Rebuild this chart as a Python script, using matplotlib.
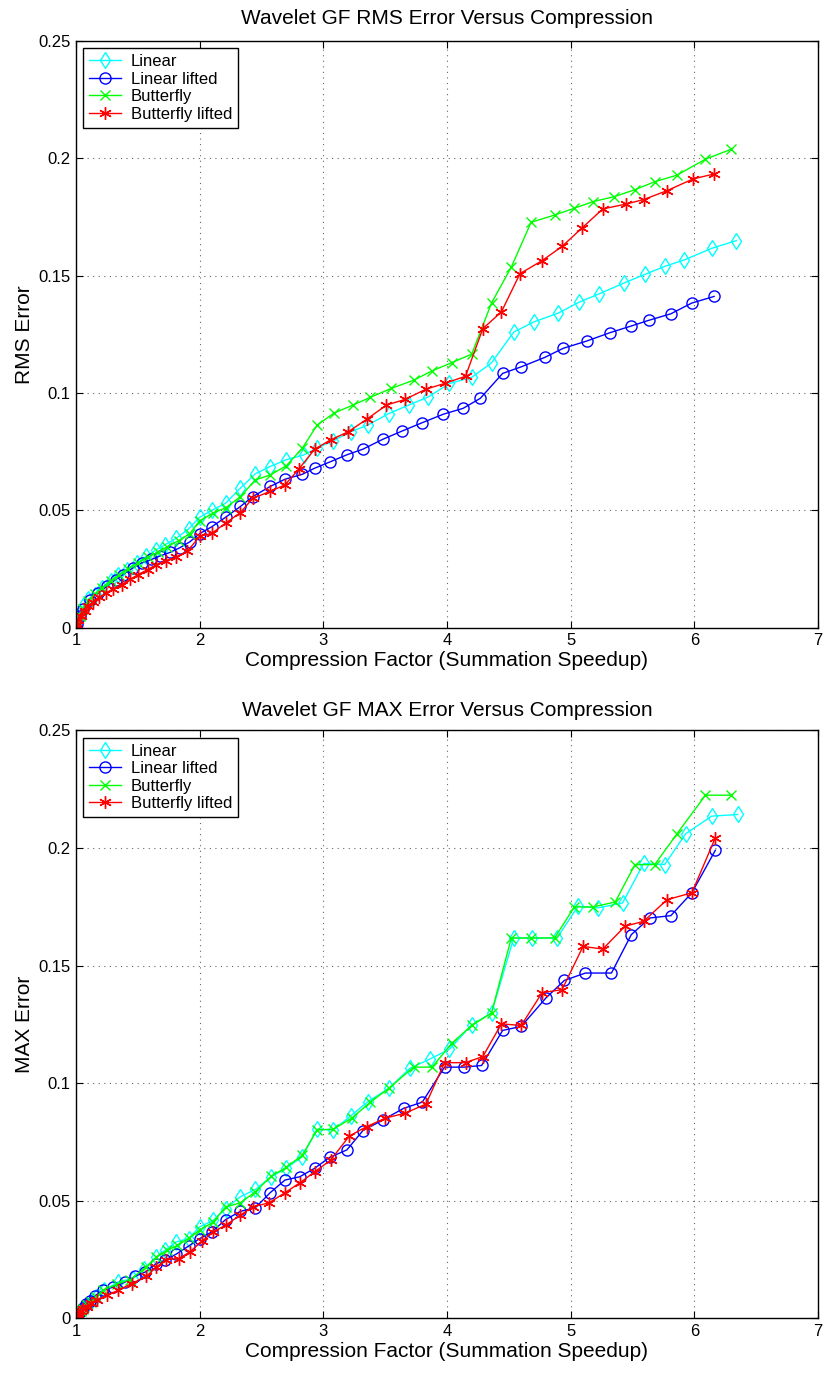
import numpy as np
import matplotlib.pyplot as plt

plt.rcParams['font.family'] = ['Liberation Sans', 'DejaVu Sans']

# ---- top panel: RMS error ----
rms_lin_x = [1.0, 1.005, 1.03, 1.06, 1.10, 1.15, 1.21, 1.28, 1.34, 1.41, 1.49, 1.57, 1.65, 1.72, 1.81,
             1.91, 2.0, 2.10, 2.21, 2.33, 2.45, 2.57, 2.70, 2.84, 2.95, 3.08, 3.22, 3.36, 3.53, 3.69,
             3.85, 4.02, 4.20, 4.36, 4.54, 4.70, 4.90, 5.07, 5.23, 5.43, 5.60, 5.76, 5.92, 6.14, 6.34]
rms_lin_y = [0.0, 0.0013, 0.006, 0.009, 0.012, 0.014, 0.017, 0.0197, 0.0225, 0.0247, 0.0275, 0.0303,
             0.0332, 0.0353, 0.038, 0.042, 0.047, 0.050, 0.053, 0.0594, 0.0655, 0.0686, 0.0715, 0.0735,
             0.0765, 0.0796, 0.0834, 0.0863, 0.0912, 0.0948, 0.0983, 0.104, 0.1066, 0.1128, 0.1259,
             0.1302, 0.134, 0.1387, 0.1422, 0.1468, 0.1505, 0.1539, 0.1567, 0.1616, 0.1649]

rms_linl_x = [1.0, 1.01, 1.03, 1.06, 1.11, 1.18, 1.25, 1.32, 1.38, 1.46, 1.53, 1.61, 1.68, 1.76, 1.84,
              1.92, 2.0, 2.10, 2.21, 2.33, 2.43, 2.57, 2.69, 2.83, 2.93, 3.05, 3.19, 3.32, 3.48, 3.64,
              3.80, 3.97, 4.13, 4.27, 4.45, 4.60, 4.79, 4.94, 5.13, 5.32, 5.49, 5.63, 5.81, 5.98, 6.16]
rms_linl_y = [0.0, 0.0015, 0.005, 0.008, 0.0119, 0.0147, 0.0176, 0.0204, 0.0225, 0.0254, 0.0275, 0.029,
              0.0305, 0.032, 0.034, 0.0365, 0.040, 0.043, 0.047, 0.0516, 0.0558, 0.0601, 0.0632, 0.0653,
              0.0679, 0.0705, 0.0736, 0.076, 0.0802, 0.0838, 0.0873, 0.0909, 0.0934, 0.0977, 0.1083,
              0.1111, 0.1151, 0.119, 0.1221, 0.1257, 0.1285, 0.1309, 0.1337, 0.1383, 0.1411]

rms_bf_x = [1.0, 1.01, 1.03, 1.06, 1.10, 1.15, 1.21, 1.28, 1.35, 1.42, 1.50, 1.58, 1.66, 1.74, 1.83,
            1.92, 2.0, 2.11, 2.21, 2.33, 2.45, 2.57, 2.70, 2.83, 2.95, 3.09, 3.24, 3.38, 3.55, 3.73,
            3.88, 4.04, 4.20, 4.36, 4.52, 4.68, 4.87, 5.03, 5.18, 5.35, 5.52, 5.68, 5.86, 6.09, 6.30]
rms_bf_y = [0.0, 0.0015, 0.005, 0.008, 0.0115, 0.0142, 0.017, 0.020, 0.0225, 0.025, 0.0275, 0.030,
            0.032, 0.0345, 0.037, 0.040, 0.0455, 0.0488, 0.051, 0.0558, 0.0629, 0.065, 0.0689, 0.0764,
            0.0863, 0.0915, 0.0948, 0.0981, 0.1019, 0.1054, 0.1094, 0.1129, 0.1165, 0.1383, 0.1536,
            0.1727, 0.1758, 0.1787, 0.1815, 0.1836, 0.1866, 0.190, 0.1928, 0.1996, 0.2039]

rms_bfl_x = [1.0, 1.01, 1.02, 1.04, 1.07, 1.10, 1.14, 1.19, 1.24, 1.30, 1.37, 1.44, 1.50, 1.58, 1.65,
             1.73, 1.81, 1.90, 2.0, 2.10, 2.21, 2.33, 2.43, 2.57, 2.69, 2.80, 2.93, 3.06, 3.20, 3.35,
             3.51, 3.66, 3.83, 3.98, 4.15, 4.29, 4.44, 4.59, 4.77, 4.93, 5.09, 5.26, 5.45, 5.59, 5.78,
             5.99, 6.16]
rms_bfl_y = [0.0, 0.001, 0.003, 0.005, 0.007, 0.009, 0.011, 0.013, 0.0145, 0.0165, 0.0183, 0.0205,
             0.0225, 0.0247, 0.0268, 0.0285, 0.030, 0.0325, 0.0388, 0.0402, 0.0445, 0.049, 0.0551,
             0.058, 0.0608, 0.0674, 0.076, 0.080, 0.0834, 0.0887, 0.0948, 0.0972, 0.1016, 0.104,
             0.1071, 0.1274, 0.1345, 0.1508, 0.1564, 0.1624, 0.1702, 0.1784, 0.1805, 0.1824, 0.1862,
             0.1912, 0.1933]

# ---- bottom panel: MAX error ----
max_lin_x = [1.0, 1.01, 1.02, 1.04, 1.06, 1.09, 1.12, 1.16, 1.23, 1.34, 1.46, 1.55, 1.65, 1.72, 1.81,
             1.91, 2.0, 2.11, 2.21, 2.33, 2.45, 2.58, 2.70, 2.83, 2.95, 3.08, 3.22, 3.36, 3.53, 3.70,
             3.86, 4.02, 4.20, 4.36, 4.54, 4.69, 4.89, 5.06, 5.22, 5.42, 5.59, 5.76, 5.93, 6.14, 6.35]
max_lin_y = [0.0, 0.001, 0.002, 0.003, 0.004, 0.0055, 0.007, 0.009, 0.0119, 0.0155, 0.0169, 0.021,
             0.0261, 0.029, 0.0325, 0.0339, 0.0389, 0.0417, 0.0467, 0.0517, 0.0548, 0.0602, 0.0638,
             0.0687, 0.0804, 0.0801, 0.0860, 0.0921, 0.0978, 0.1063, 0.1102, 0.1144, 0.1248, 0.1298,
             0.1617, 0.1617, 0.1617, 0.1752, 0.1745, 0.1766, 0.1934, 0.1929, 0.2060, 0.2135, 0.2142]

max_linl_x = [1.0, 1.01, 1.02, 1.04, 1.06, 1.08, 1.11, 1.15, 1.22, 1.30, 1.40, 1.48, 1.56, 1.65, 1.72,
              1.81, 1.91, 2.0, 2.10, 2.21, 2.33, 2.45, 2.57, 2.69, 2.81, 2.93, 3.05, 3.19, 3.32, 3.48,
              3.65, 3.80, 3.98, 4.14, 4.28, 4.45, 4.60, 4.80, 4.95, 5.12, 5.33, 5.49, 5.64, 5.81, 5.98,
              6.17]
max_linl_y = [0.0, 0.001, 0.002, 0.003, 0.0045, 0.006, 0.0075, 0.0095, 0.0119, 0.0133, 0.0155, 0.0179,
              0.0197, 0.0233, 0.0247, 0.0273, 0.0307, 0.0339, 0.0368, 0.042, 0.0455, 0.047, 0.0534,
              0.0588, 0.0602, 0.0638, 0.0684, 0.0716, 0.0798, 0.0843, 0.0893, 0.0919, 0.1068, 0.1068,
              0.1075, 0.1224, 0.1241, 0.1362, 0.1437, 0.1468, 0.1468, 0.1631, 0.1702, 0.1712, 0.1809,
              0.1990]

max_bf_x = [1.0, 1.01, 1.02, 1.04, 1.06, 1.09, 1.12, 1.16, 1.22, 1.33, 1.44, 1.57, 1.65, 1.74, 1.82,
            1.91, 2.0, 2.11, 2.21, 2.33, 2.45, 2.58, 2.70, 2.83, 2.95, 3.08, 3.23, 3.38, 3.53, 3.73,
            3.88, 4.04, 4.20, 4.36, 4.52, 4.68, 4.87, 5.03, 5.18, 5.36, 5.52, 5.68, 5.86, 6.09, 6.30]
max_bf_y = [0.0, 0.001, 0.002, 0.003, 0.004, 0.0055, 0.007, 0.009, 0.012, 0.0145, 0.0165, 0.022,
            0.026, 0.029, 0.031, 0.034, 0.0375, 0.041, 0.0474, 0.0491, 0.0538, 0.0605, 0.0642, 0.0694,
            0.0801, 0.0804, 0.0851, 0.0919, 0.0978, 0.1068, 0.1068, 0.1170, 0.1245, 0.1298, 0.1617,
            0.1617, 0.1617, 0.1749, 0.1749, 0.1770, 0.1929, 0.1929, 0.2060, 0.2224, 0.2224]

max_bfl_x = [1.0, 1.01, 1.02, 1.04, 1.06, 1.09, 1.12, 1.17, 1.25, 1.34, 1.45, 1.57, 1.65, 1.73, 1.83,
             1.92, 2.02, 2.11, 2.21, 2.33, 2.43, 2.56, 2.69, 2.81, 2.93, 3.06, 3.21, 3.35, 3.50, 3.66,
             3.83, 3.98, 4.15, 4.29, 4.44, 4.60, 4.77, 4.93, 5.10, 5.26, 5.44, 5.59, 5.78, 5.98, 6.17]
max_bfl_y = [0.0, 0.001, 0.002, 0.003, 0.004, 0.005, 0.0065, 0.008, 0.0098, 0.0119, 0.0148, 0.0179,
             0.0218, 0.025, 0.0254, 0.0282, 0.0329, 0.0368, 0.0396, 0.0439, 0.0474, 0.0491, 0.0534,
             0.0576, 0.0623, 0.0673, 0.0775, 0.0815, 0.0851, 0.0872, 0.0911, 0.1087, 0.1087, 0.1113,
             0.1252, 0.1245, 0.1385, 0.1397, 0.1581, 0.1570, 0.1667, 0.1688, 0.1780, 0.1809, 0.2043]

series_names = ['Linear', 'Linear lifted', 'Butterfly', 'Butterfly lifted']
x_ticks = [1, 2, 3, 4, 5, 6, 7]
y_ticks = [0, 0.05, 0.1, 0.15, 0.2, 0.25]
y_tick_labels = ['0', '0.05', '0.1', '0.15', '0.2', '0.25']

# matlab-ish line styles
styles = [
    dict(color='#00FFFF', marker='d', markersize=8, markerfacecolor='none'),
    dict(color='#0000FF', marker='o', markersize=8, markerfacecolor='none'),
    dict(color='#00FF00', marker='x', markersize=7),
    dict(color='#FF0000', marker=(6, 2, 0), markersize=9),
]

fig = plt.figure(figsize=(8.25, 13.74), dpi=100)
ax1 = fig.add_axes([0.0921, 0.5433, 0.8994, 0.4269])
ax2 = fig.add_axes([0.0921, 0.0405, 0.8994, 0.4280])


def draw_panel(ax, data, title, ylabel, title_pad):
    for (xs, ys), name, st in zip(data, series_names, styles):
        ax.plot(xs, ys, linewidth=1.0, markeredgewidth=1.0, label=name, **st)
    ax.set_xlim(1, 7)
    ax.set_ylim(0, 0.25)
    ax.set_xticks(x_ticks)
    ax.set_yticks(y_ticks)
    ax.set_yticklabels(y_tick_labels)
    ax.tick_params(direction='in', top=True, right=True, labelsize=12, length=5, pad=4)
    ax.grid(True, color='k', linestyle=(0, (1, 4)), linewidth=0.8, alpha=0.6)
    for sp in ax.spines.values():
        sp.set_linewidth(1.0)
    ax.set_title(title, fontsize=15, pad=title_pad)
    ax.set_xlabel('Compression Factor (Summation Speedup)', fontsize=15, labelpad=2)
    ax.set_ylabel(ylabel, fontsize=15, labelpad=3)
    leg = ax.legend(loc='upper left', fontsize=12, fancybox=False, framealpha=1,
                    edgecolor='k', borderaxespad=0.45, handlelength=1.9, handletextpad=0.6,
                    labelspacing=0.15, borderpad=0.35)
    leg.get_frame().set_linewidth(1.0)


draw_panel(ax1, [(rms_lin_x, rms_lin_y), (rms_linl_x, rms_linl_y),
                 (rms_bf_x, rms_bf_y), (rms_bfl_x, rms_bfl_y)],
           'Wavelet GF RMS Error Versus Compression', 'RMS Error', 12)
draw_panel(ax2, [(max_lin_x, max_lin_y), (max_linl_x, max_linl_y),
                 (max_bf_x, max_bf_y), (max_bfl_x, max_bfl_y)],
           'Wavelet GF MAX Error Versus Compression', 'MAX Error', 10)

fig.savefig('out.png', dpi=100)
